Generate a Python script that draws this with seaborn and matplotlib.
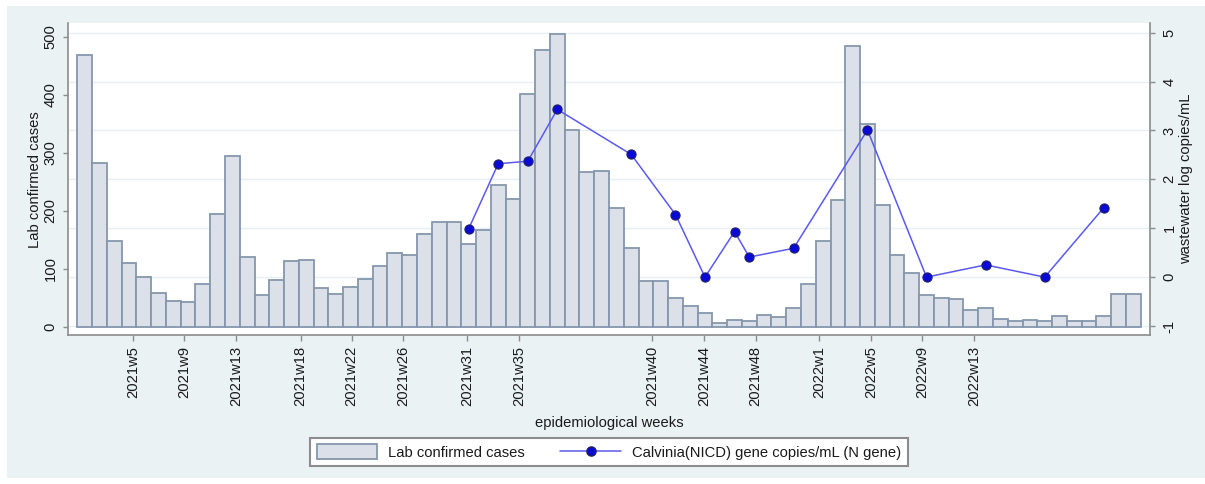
import numpy as np
import pandas as pd
import matplotlib
matplotlib.use("Agg")
import matplotlib.pyplot as plt
import seaborn as sns
from matplotlib.patches import Rectangle, Patch
from matplotlib.lines import Line2D
from matplotlib.transforms import blended_transform_factory

# ---------------- data ----------------
bar_index = list(range(72))
cases = [468, 282, 147, 110, 86, 58, 44, 42, 73, 195,
         295, 120, 54, 80, 113, 115, 66, 56, 68, 82,
         105, 127, 124, 160, 180, 181, 143, 167, 244, 220,
         402, 477, 505, 340, 267, 268, 204, 136, 78, 78,
         50, 35, 23, 6, 12, 10, 20, 17, 32, 74,
         147, 219, 484, 350, 209, 124, 92, 55, 50, 47,
         28, 33, 13, 9, 12, 9, 19, 9, 9, 19,
         56, 56]

ww_index = [26, 28, 30, 32, 37, 40, 42, 44, 45, 48, 53, 57, 61, 65, 69]
ww_log = [0.99, 2.32, 2.37, 3.43, 2.51, 1.28, 0.0, 0.93, 0.41, 0.59,
          3.01, 0.0, 0.25, 0.0, 1.42]

tick_pos = [3.29, 6.74, 10.24, 14.62, 18.08, 21.57, 25.90, 29.42,
            38.43, 41.95, 45.43, 49.74, 53.26, 56.69, 60.21]
tick_labels = ['2021w5', '2021w9', '2021w13', '2021w18', '2021w22', '2021w26',
               '2021w31', '2021w35', '2021w40', '2021w44', '2021w48',
               '2022w1', '2022w5', '2022w9', '2022w13']

left_ticks = [0, 100, 200, 300, 400, 500]
right_ticks = [-1, 0, 1, 2, 3, 4, 5]

bar_label = 'Lab confirmed cases'
line_label = 'Calvinia(NICD) gene copies/mL (N gene)'

# ---------------- style ----------------
sns.set_theme(style='white')
plt.rcParams['font.family'] = ['Liberation Sans', 'DejaVu Sans']
FS = 10.6
TXT = '#1a1a1a'
SPINE = '#8c8c8c'
BAR_FILL = '#dce1e9'
BAR_EDGE = '#8597ad'
LINE_C = '#5a5af0'
MARK_C = '#0a0ad8'
MARK_E = '#202060'
BG = '#eaf2f3'

W, H = 1205, 484
fig = plt.figure(figsize=(W / 100, H / 100), dpi=100, facecolor='white')
fig.patches.append(Rectangle((7 / W, (H - 478) / H), (W - 7) / W, (478 - 6) / H,
                             transform=fig.transFigure, facecolor=BG,
                             edgecolor='none', zorder=-10))

ax_l, ax_r, ax_b, ax_t = 68.3, 1150, 335, 23.3
ax = fig.add_axes([ax_l / W, (H - ax_b) / H, (ax_r - ax_l) / W, (ax_b - ax_t) / H])
ax.set_facecolor('white')

df_bar = pd.DataFrame({'idx': bar_index, 'cases': cases})
sns.barplot(data=df_bar, x='idx', y='cases', ax=ax, color=BAR_FILL,
            saturation=1, edgecolor=BAR_EDGE, linewidth=1.3, width=1.0,
            errorbar=None, zorder=2)

ax2 = ax.twinx()
df_ww = pd.DataFrame({'idx': ww_index, 'val': ww_log})
sns.lineplot(data=df_ww, x='idx', y='val', ax=ax2, color=LINE_C, linewidth=1.1,
             marker='o', markersize=6.6, markerfacecolor=MARK_C,
             markeredgecolor=MARK_E, markeredgewidth=0.8, zorder=3)

# limits (pixel-calibrated)
ax.set_xlim(-1.11, 72.13)
ax.set_ylim(-14.3, 523.1)
ax2.set_ylim(-1.184, 5.192)

# gridlines at right-axis ticks, drawn behind bars
tr = blended_transform_factory(ax.transAxes, ax2.transData)
for v in right_ticks:
    ax.plot([0, 1], [v, v], transform=tr, color='#e6eff1', lw=1.0, zorder=0.5)

# ticks
ax.set_xticks(tick_pos)
ax.set_xticklabels(tick_labels, rotation=90, fontsize=FS, color=TXT)
ax.set_yticks(left_ticks)
ax.set_yticklabels([str(t) for t in left_ticks], rotation=90, fontsize=FS,
                   color=TXT, va='center')
ax2.set_yticks(right_ticks)
ax2.set_yticklabels([str(t) for t in right_ticks], rotation=90, fontsize=FS,
                    color=TXT, va='center')

ax.tick_params(axis='x', length=4.5, width=1.0, color=SPINE, pad=3.5, bottom=True)
ax.tick_params(axis='y', length=3.6, width=1.0, color=SPINE, pad=4.0, left=True)
ax2.tick_params(axis='y', length=3.6, width=1.0, color=SPINE, pad=5.5, right=True)

for a in (ax, ax2):
    a.spines['top'].set_visible(False)
    for s in ('left', 'right', 'bottom'):
        a.spines[s].set_color(SPINE)
        a.spines[s].set_linewidth(1.2)
ax.spines['right'].set_visible(False)
ax2.spines['left'].set_visible(False)
ax2.spines['bottom'].set_visible(False)

ax.set_xlabel('epidemiological weeks', fontsize=FS, color=TXT, labelpad=7)
ax.set_ylabel('Lab confirmed cases', fontsize=FS, color=TXT, labelpad=1.5)
ax2.set_ylabel('wastewater log copies/mL', fontsize=FS, color=TXT, labelpad=1.5)
ax2.grid(False)
ax.grid(False)

# legend
handles = [Patch(facecolor=BAR_FILL, edgecolor=BAR_EDGE, linewidth=1.3),
           Line2D([], [], color=LINE_C, lw=1.1, marker='o', markersize=6.6,
                  markerfacecolor=MARK_C, markeredgecolor=MARK_E)]
leg = fig.legend(handles, [bar_label, line_label], ncol=2, loc='center',
                 bbox_to_anchor=(609 / W, (H - 452) / H), fontsize=FS,
                 frameon=True, fancybox=False, edgecolor='#8c8c8c',
                 facecolor='white', framealpha=1, handlelength=4.1,
                 handleheight=1.1, handletextpad=0.75, columnspacing=2.4,
                 borderpad=0.45)
leg.get_frame().set_linewidth(1.5)
for t in leg.get_texts():
    t.set_color(TXT)

fig.savefig('out.png', dpi=100, facecolor='white')
